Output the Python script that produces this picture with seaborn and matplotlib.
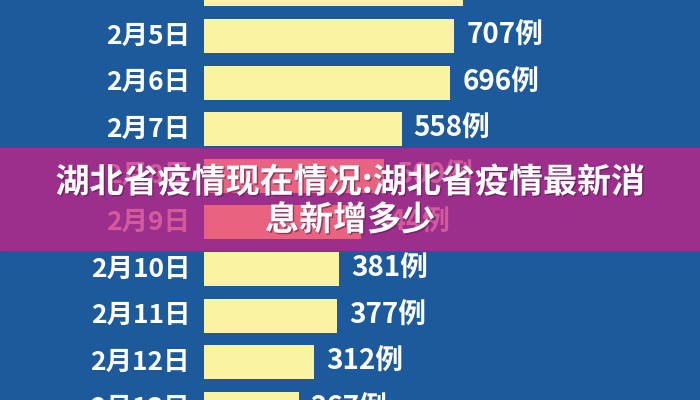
import matplotlib
matplotlib.use("Agg")
import matplotlib.pyplot as plt
import matplotlib.patheffects as pe
from matplotlib.transforms import offset_copy
import seaborn as sns
import pandas as pd

# ---- data ----
dates = ['2月4日', '2月5日', '2月6日', '2月7日', '2月8日', '2月9日',
         '2月10日', '2月11日', '2月12日', '2月13日']
cases = [731, 707, 696, 558, 509, 444, 381, 377, 312, 267]
highlight = ['2月8日', '2月9日']
unit = '例'
title = '湖北省疫情现在情况:湖北省疫情最新消\n息新增多少'

# ---- style ----
BG = '#1d5a9c'
YELLOW = '#faf3a1'
PINK_BAR = '#e9627f'
PINK_TXT = '#d45a9e'
BANNER = '#9c2f8b'

sns.set_theme(style='white')
plt.rcParams['font.family'] = ['Noto Sans CJK SC', 'DejaVu Sans']

df = pd.DataFrame({'date': dates, 'cases': cases})
colors = [PINK_BAR if d in highlight else YELLOW for d in dates]

fig = plt.figure(figsize=(7, 4), dpi=100)
fig.patch.set_facecolor(BG)
ax = fig.add_axes([0, 0, 1, 1])
ax.set_facecolor(BG)

sns.barplot(data=df, x='cases', y='date', hue='date', palette=colors,
            legend=False, width=0.73, saturation=1, ax=ax, orient='h',
            linewidth=0, edgecolor='none', zorder=2)

# pixel mapping: 0 -> x=204px, 0.354 px per case; rows 46.6px apart
px_per = 0.354
ax.set_xlim(-204 / px_per, (700 - 204) / px_per)
row = 46.6
y0 = -10.6  # pixel y of first row centre
ax.set_ylim((400 - y0) / row, (0 - y0) / row)

# banner band behind highlighted rows
ax.axhspan((148 - y0) / row, (250 - y0) / row, color=BANNER, zorder=1)

ax.set_axis_off()

lbl_tr = offset_copy(ax.transData, fig=fig, x=-14, y=0, units='dots')
val_tr = offset_copy(ax.transData, fig=fig, x=12, y=0, units='dots')
for i, (d, v) in enumerate(zip(dates, cases)):
    c = PINK_TXT if d in highlight else 'white'
    ax.text(0, i, d, transform=lbl_tr, ha='right', va='center',
            fontsize=19, fontweight='heavy', color=c, zorder=3)
    ax.text(v, i, f'{v}{unit}', transform=val_tr, ha='left', va='center',
            fontsize=20, fontweight='heavy', color=c, zorder=3)

fig.text(0.5, (400 - 201) / 400, title, ha='center', va='center',
         multialignment='center', fontsize=24.5, fontweight='heavy',
         color='white', linespacing=1.1, zorder=10,
         path_effects=[pe.withSimplePatchShadow(offset=(1, -1), shadow_rgbFace='#5a1a50', alpha=0.6)])

fig.savefig('out.png', dpi=100, facecolor=BG)
